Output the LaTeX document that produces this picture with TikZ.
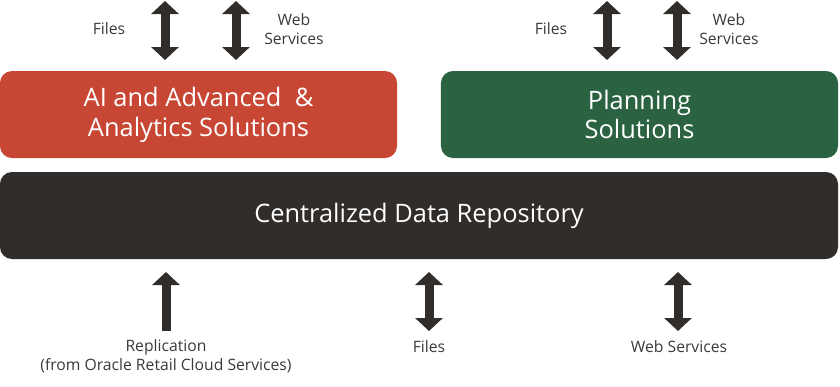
\documentclass[tikz,border=0pt]{standalone}
\usepackage{fontspec}
\setmainfont{Open Sans}
\usetikzlibrary{arrows.meta,positioning}
\definecolor{oraRed}{HTML}{C74634}
\definecolor{oraGreen}{HTML}{2B6242}
\definecolor{oraDark}{HTML}{312D2A}
\definecolor{labelGrey}{HTML}{3A3A3A}
\begin{document}
\begin{tikzpicture}[x=0.03cm, y=-0.03cm,
        solution/.style={rectangle, rounded corners=0.36cm, minimum width=11.91cm,
            minimum height=2.61cm, text=white, align=center,
            font=\fontsize{21.7}{25.5}\selectfont},
        repo/.style={solution, minimum width=25.14cm, fill=oraDark},
        label/.style={text=labelGrey, align=center, font=\fontsize{13.4}{16.5}\selectfont},
        bothway/.style={line width=0.27cm, draw=oraDark,
            {Triangle[width=0.81cm, length=0.39cm]}-{Triangle[width=0.81cm, length=0.39cm]}},
        oneway/.style={line width=0.27cm, draw=oraDark, -{Triangle[width=0.81cm, length=0.39cm]}},
    ]
        \useasboundingbox (0, 0) rectangle (840, 386);

        % Solution boxes
        \node[solution, fill=oraRed] (ai) at (198.5, 114.5) {AI and Advanced~~\&\\Analytics Solutions};
        \node[solution, fill=oraGreen] (plan) at (639.5, 114.5) {Planning\\Solutions};
        \node[repo] (repo) at (419, 215.5) {Centralized Data Repository};

        % Top labels
        \node[label] (aifiles) at (109, 29) {Files};
        \node[label] (aiws) at (294, 29) {Web\\Services};
        \node[label] (planfiles) at (551, 29) {Files};
        \node[label] (planws) at (729, 29) {Web\\Services};

        % Bottom labels
        \node[label] (repl) at (166, 356) {Replication\\(from Oracle Retail Cloud Services)};
        \node[label] (repofiles) at (429, 347) {Files};
        \node[label] (repows) at (679, 347) {Web Services};

        % Arrow ends
        \coordinate (aifilesT) at (165, 1);
        \coordinate (aiwsT) at (236, 1);
        \coordinate (planfilesT) at (607, 1);
        \coordinate (planwsT) at (677, 1);
        \coordinate (replB) at (166, 331);
        \coordinate (repofilesB) at (429, 331);
        \coordinate (repowsB) at (678, 331);

        % Flows
        \draw[bothway] (aifilesT) -- (aifilesT |- 0, 60);
        \draw[bothway] (aiwsT) -- (aiwsT |- 0, 60);
        \draw[bothway] (planfilesT) -- (planfilesT |- 0, 60);
        \draw[bothway] (planwsT) -- (planwsT |- 0, 60);
        \draw[oneway] (replB) -- (replB |- 0, 272);
        \draw[bothway] (repofilesB) -- (repofilesB |- 0, 272);
        \draw[bothway] (repowsB) -- (repowsB |- 0, 272);
    \end{tikzpicture}
\end{document}
